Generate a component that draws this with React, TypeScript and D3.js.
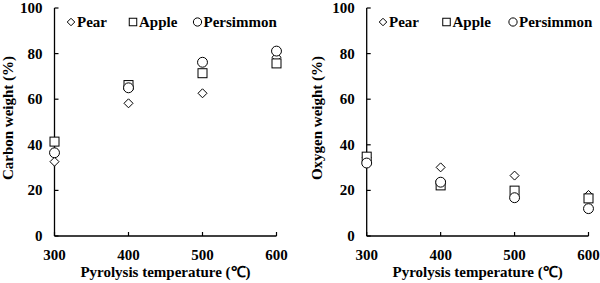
import React from "react";
import * as d3 from "d3";

const temps = [300, 400, 500, 600];
const seriesNames = ["Pear", "Apple", "Persimmon"];
const carbonPear = [32.6, 58.2, 62.6, 78.4];
const carbonApple = [41.4, 66.2, 71.4, 75.7];
const carbonPersimmon = [36.5, 65.0, 76.2, 81.1];
const oxygenPear = [34.5, 30.1, 26.5, 18.0];
const oxygenApple = [34.8, 22.2, 19.9, 16.5];
const oxygenPersimmon = [32.0, 23.6, 16.8, 12.0];
const yTicks = [0, 20, 40, 60, 80, 100];
const xTitle = "Pyrolysis temperature (℃)";

const FONT = "'Liberation Serif', 'Times New Roman', serif";
const FS = 15;

function Marker({ kind, x, y, s }: { kind: string; x: number; y: number; s: number }) {
  const st = { fill: "white", stroke: "black", strokeWidth: 1 };
  if (kind === "Pear") {
    const h = s * 0.5;
    return <path d={`M${x},${y - h}L${x + h},${y}L${x},${y + h}L${x - h},${y}Z`} {...st} />;
  }
  if (kind === "Apple") {
    const h = s * 0.5;
    return <rect x={x - h} y={y - h} width={2 * h} height={2 * h} {...st} />;
  }
  return <circle cx={x} cy={y} r={s * 0.55} {...st} />;
}

function Panel({ titleX, axisX, xEnd, yTitle, data, legendX }: any) {
  const x = d3.scaleLinear().domain([300, 600]).range([axisX, xEnd]);
  const y = d3.scaleLinear().domain([0, 100]).range([236, 8]);
  return (
    <g>
      <line x1={axisX} x2={axisX} y1={y(100)} y2={y(0)} stroke="black" strokeWidth={1.3} />
      <line x1={axisX} x2={xEnd} y1={y(0)} y2={y(0)} stroke="black" strokeWidth={1.3} />
      {yTicks.map((t) => (
        <g key={t}>
          <line x1={axisX} x2={axisX + 4} y1={y(t)} y2={y(t)} stroke="black" strokeWidth={1.2} />
          <text x={axisX - 12} y={y(t) + 5} textAnchor="end" fontSize={FS} fontWeight="bold" fontFamily={FONT}>{t}</text>
        </g>
      ))}
      {temps.map((t) => (
        <g key={t}>
          <line x1={x(t)} x2={x(t)} y1={y(0)} y2={y(0) - 4} stroke="black" strokeWidth={1.2} />
          <text x={x(t)} y={260} textAnchor="middle" fontSize={FS} fontWeight="bold" fontFamily={FONT}>{t}</text>
        </g>
      ))}
      <text x={(axisX + xEnd) / 2} y={277} textAnchor="middle" fontSize={FS} fontWeight="bold" fontFamily={FONT}>{xTitle}</text>
      <text transform={`translate(${titleX},${118}) rotate(-90)`} textAnchor="middle" fontSize={FS} fontWeight="bold" fontFamily={FONT}>{yTitle}</text>
      {seriesNames.map((name, si) => (
        <g key={name}>
          {data[si].map((v: number, i: number) => (
            <Marker key={i} kind={name} x={x(temps[i])} y={y(v)} s={9} />
          ))}
        </g>
      ))}
      {seriesNames.map((name, si) => (
        <g key={"l" + name}>
          <Marker kind={name} x={legendX[si]} y={22} s={7.5} />
          <text x={legendX[si] + 6} y={27} fontSize={FS} fontWeight="bold" fontFamily={FONT}>{name}</text>
        </g>
      ))}
    </g>
  );
}

export default function App() {
  return (
    <svg width={600} height={283} style={{ position: "absolute", left: 0, top: 0, background: "white" }}>
      <rect width={600} height={283} fill="white" />
      <Panel titleX={12.5} axisX={54.5} xEnd={276.5} yTitle="Carbon weight (%)" data={[carbonPear, carbonApple, carbonPersimmon]} legendX={[71, 133, 197.5]} />
      <Panel titleX={322} axisX={366.7} xEnd={588.5} yTitle="Oxygen weight (%)" data={[oxygenPear, oxygenApple, oxygenPersimmon]} legendX={[383, 446.5, 513]} />
    </svg>
  );
}
